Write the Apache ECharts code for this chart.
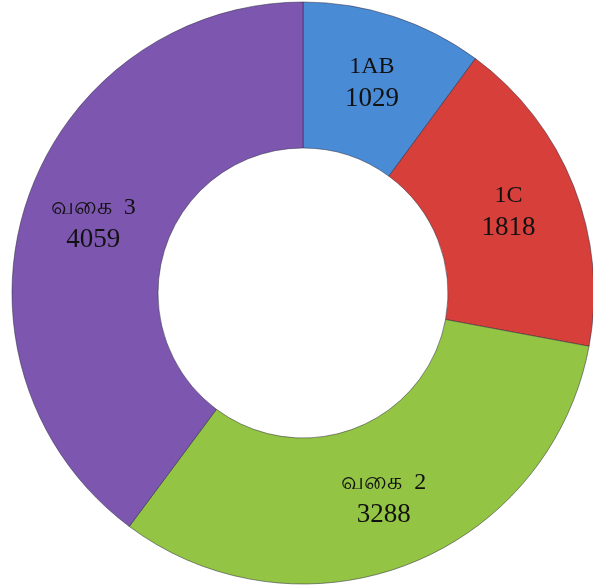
<!DOCTYPE html>
<html>
<head>
<meta charset="utf-8">
<script src="https://cdn.jsdelivr.net/npm/echarts@6/dist/echarts.min.js"></script>
<style>
  html, body { margin: 0; padding: 0; background: #fff; }
  #chart { width: 593px; height: 586px; }
</style>
</head>
<body>
<div id="chart"></div>
<script>
const categories = ['1AB', '1C', 'வகை  2', 'வகை  3'];
const values = [1029, 1818, 3288, 4059];
const colors = ['#4a8bd6', '#d63f3a', '#93c444', '#7d56b0'];

const myChart = echarts.init(document.getElementById('chart'));

const pieData = categories.map((name, i) => ({
    name: name,
    value: values[i],
    itemStyle: { color: colors[i] }
}));

const option = {
    animation: false,
    series: [
        {
            type: 'pie',
            center: [303, 293],
            radius: [145, 291],
            startAngle: 90,
            clockwise: true,
            avoidLabelOverlap: false,
            itemStyle: {
                borderColor: 'rgba(40, 40, 60, 0.5)',
                borderWidth: 1
            },
            label: {
                show: true,
                position: 'inside',
                formatter: '{name|{b}}\n{val|{c}}',
                color: '#111',
                fontFamily: 'Liberation Serif, DejaVu Serif, serif',
                align: 'center',
                rich: {
                    name: {
                        fontFamily: 'Liberation Serif, DejaVu Serif, serif',
                        fontSize: 24,
                        lineHeight: 32,
                        color: '#111'
                    },
                    val: {
                        fontFamily: 'Liberation Serif, DejaVu Serif, serif',
                        fontSize: 27,
                        lineHeight: 32,
                        color: '#111'
                    }
                }
            },
            labelLine: { show: false },
            emphasis: { disabled: true },
            data: pieData
        }
    ]
};

myChart.setOption(option);
</script>
</body>
</html>
